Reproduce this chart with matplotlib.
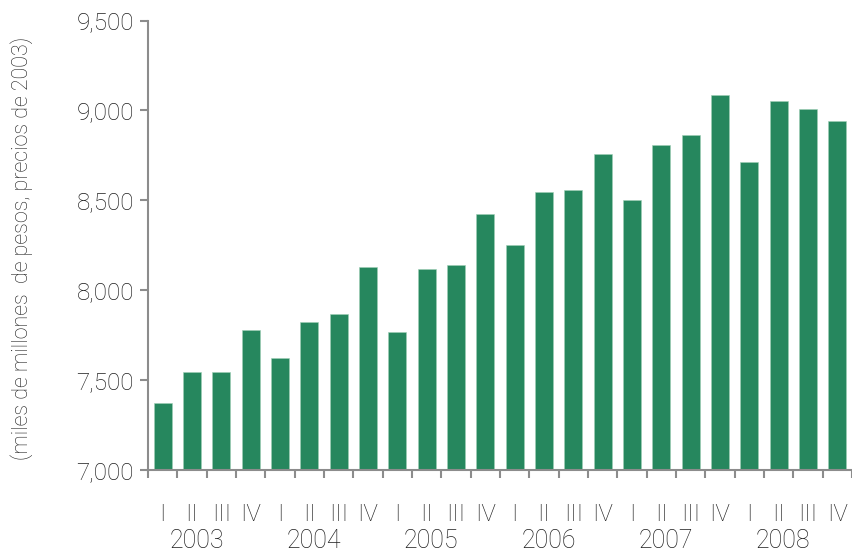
import matplotlib.pyplot as plt
from matplotlib.ticker import FuncFormatter
import matplotlib.transforms as mtransforms

# PIB trimestral (miles de millones de pesos, precios de 2003)
years = ['2003', '2004', '2005', '2006', '2007', '2008']
quarters = ['I', 'II', 'III', 'IV']
values = [7374, 7543, 7543, 7778,
          7621, 7823, 7869, 8129,
          7767, 8116, 8140, 8422,
          8253, 8546, 8557, 8759,
          8500, 8806, 8861, 9087,
          8715, 9052, 9008, 8939]

plt.rcParams['font.family'] = ['Roboto', 'DejaVu Sans']
plt.rcParams['font.weight'] = 'light'

fig = plt.figure(figsize=(8.52, 5.53), dpi=100)
ax = fig.add_axes([148 / 852, 83 / 553, 704 / 852, 449.5 / 553])

x = list(range(len(values)))
ax.bar(x, values, width=0.61, color='#26875e', edgecolor='#9fcfb6', linewidth=0.4,
       zorder=2)

ax.set_ylim(7000, 9500)
ax.set_xlim(-0.5, 23.3)

grey = '#8c8c8c'
txt = '#1e1e1e'
for side in ['top', 'right']:
    ax.spines[side].set_visible(False)
ax.spines['left'].set_color(grey)
ax.spines['bottom'].set_color(grey)
ax.spines['left'].set_linewidth(1.5)
ax.spines['bottom'].set_linewidth(1.5)

ax.set_yticks([7000, 7500, 8000, 8500, 9000, 9500])
ax.yaxis.set_major_formatter(FuncFormatter(lambda v, p: f'{int(v):,}'))
ax.tick_params(axis='y', colors=grey, length=6, width=1.5, labelsize=17.5,
               labelcolor=txt, pad=4)

# marcas entre barras, etiquetas de trimestre centradas en cada barra
ax.set_xticks([i - 0.5 for i in range(len(values) + 1)])
ax.set_xticklabels([])
ax.tick_params(axis='x', which='major', colors=grey, length=6, width=1.5)
ax.set_xticks(x, minor=True)
ax.set_xticklabels(quarters * len(years), minor=True)
ax.tick_params(axis='x', which='minor', length=0, labelsize=17.5,
               labelcolor=txt, pad=24)

trans = mtransforms.blended_transform_factory(ax.transData, ax.transAxes)
for i, yr in enumerate(years):
    ax.text(i * 4 + 1.15, -0.158, yr, transform=trans, ha='center', va='center',
            fontsize=18, color=txt)

fig.text(22 / 852, 1 - 248 / 553, '(miles de millones  de pesos, precios de 2003)',
         rotation=90, ha='center', va='center', fontsize=15.5, color=txt)

fig.savefig('out.png', dpi=100)
